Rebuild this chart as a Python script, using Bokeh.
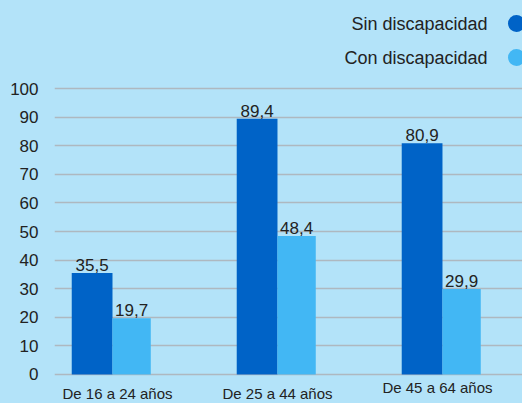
from bokeh.plotting import figure
from bokeh.models import Range1d, FixedTicker
from bokeh.embed import file_html
from bokeh.resources import INLINE
from bokeh.core.properties import value

categories = ["De 16 a 24 años", "De 25 a 44 años", "De 45 a 64 años"]
sin_disc = [35.5, 89.4, 80.9]
con_disc = [19.7, 48.4, 29.9]
series_names = ["Sin discapacidad", "Con discapacidad"]
y_ticks = [0, 10, 20, 30, 40, 50, 60, 70, 80, 90, 100]

BG = "#b3e3f9"
DARK = "#0063c7"
LIGHT = "#42b7f4"
TXT = "#222222"
FONT = "Liberation Sans"

W, H = 522, 403
LEFT = 54
FW = W - LEFT

xs = list(range(len(categories)))

p = figure(width=W, height=H, output_backend="svg", toolbar_location=None,
           x_range=Range1d(-0.3515, 2.485), y_range=Range1d(-10.14, 130.77),
           min_border_left=LEFT, min_border_right=0, min_border_top=0, min_border_bottom=0)
p.extra_x_ranges = {"px": Range1d(0, FW)}
p.extra_y_ranges = {"px": Range1d(H, 0)}

p.background_fill_color = BG
p.border_fill_color = BG
p.outline_line_color = None

p.xaxis.visible = False
p.xgrid.grid_line_color = None
p.ygrid.ticker = FixedTicker(ticks=y_ticks)
p.ygrid.grid_line_color = "#aeb8c0"
p.ygrid.grid_line_width = 1.5

ax = p.yaxis[0]
ax.ticker = FixedTicker(ticks=y_ticks)
ax.axis_line_color = None
ax.major_tick_line_color = None
ax.minor_tick_line_color = None
ax.major_tick_out = 0
ax.major_tick_in = 0
ax.major_label_standoff = 16
ax.major_label_text_font = FONT
ax.major_label_text_font_size = "17px"
ax.major_label_text_color = TXT

sin_lbl = [f"{v:.1f}".replace(".", ",") for v in sin_disc]
con_lbl = [f"{v:.1f}".replace(".", ",") for v in con_disc]

dark_w, light_w = 0.247, 0.232
p.vbar(x=[x - dark_w / 2 for x in xs], top=sin_disc, width=dark_w, bottom=0,
       fill_color=DARK, line_color=None)
p.vbar(x=[x + light_w / 2 for x in xs], top=con_disc, width=light_w, bottom=0,
       fill_color=LIGHT, line_color=None)

p.text(x=[x - dark_w / 2 for x in xs], y=sin_disc, text=sin_lbl,
       text_align="center", text_baseline="bottom", y_offset=-2,
       text_font=value(FONT), text_font_size="17px", text_color=TXT)
p.text(x=[x + light_w / 2 for x in xs], y=con_disc, text=con_lbl,
       text_align="center", text_baseline="bottom", y_offset=-2,
       text_font=value(FONT), text_font_size="17px", text_color=TXT)

# category labels
p.text(x=xs, y=[-6.64] * len(xs), text=categories,
       x_offset=[5, 0, -5], y_offset=[0, 0, -6],
       text_align="center", text_baseline="middle",
       text_font=value(FONT), text_font_size="15px", text_color=TXT)

# legend (text left of marker)
p.text(x=[433, 433], y=[23, 57], text=series_names, x_range_name="px", y_range_name="px",
       text_align="right", text_baseline="middle",
       text_font=value(FONT), text_font_size="18px", text_color=TXT)
p.scatter(x=[462, 462], y=[23, 57], size=17, marker="circle",
          fill_color=[DARK, LIGHT], line_color=None,
          x_range_name="px", y_range_name="px")

html = file_html(p, INLINE)
html = html.replace("</head>", "<style>body{background:%s;}</style></head>" % BG, 1)
open("out.html", "w").write(html)
